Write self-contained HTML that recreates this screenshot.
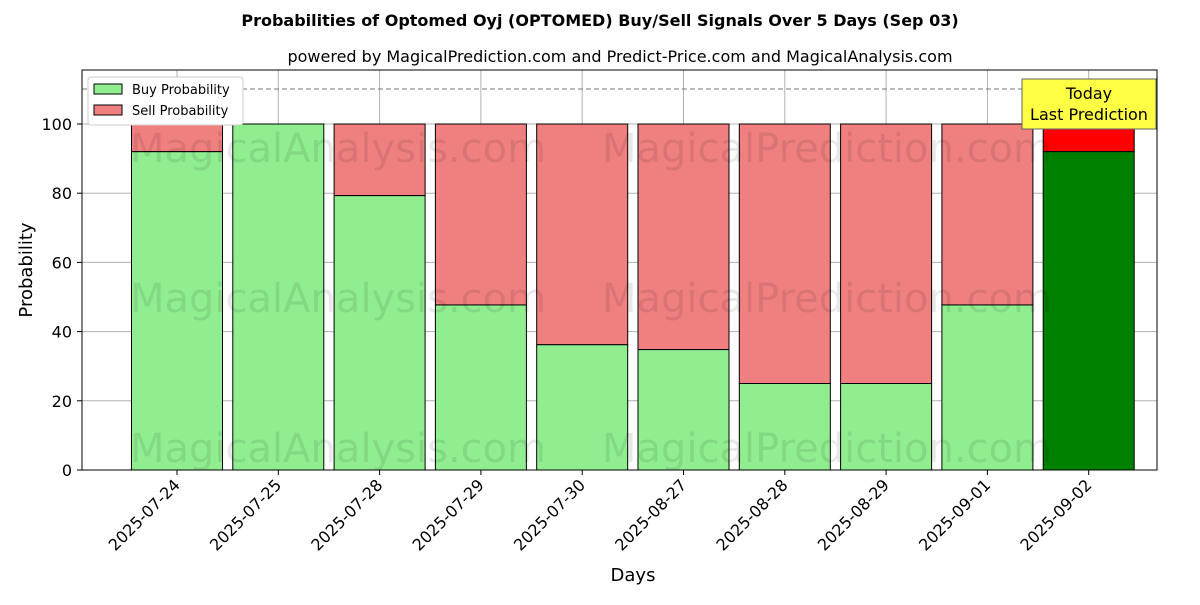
<!DOCTYPE html>
<html><head><meta charset="utf-8"><style>
body{margin:0;background:#fff;font-family:"Liberation Sans","DejaVu Sans",sans-serif}
svg text{font-family:"DejaVu Sans","Liberation Sans",sans-serif}
</style></head><body>
<svg id="chart" width="1200" height="600" xmlns="http://www.w3.org/2000/svg">
<text x="600" y="26" text-anchor="middle" font-size="16" font-weight="bold">Probabilities of Optomed Oyj (OPTOMED) Buy/Sell Signals Over 5 Days (Sep 03)</text>
<text x="620" y="62" text-anchor="middle" font-size="16">powered by MagicalPrediction.com and Predict-Price.com and MagicalAnalysis.com</text>
<g id="grid"></g>
<g id="bars"></g>
<g font-size="40" fill="#000" fill-opacity="0.09">
<text x="130" y="162">MagicalAnalysis.com</text><text x="602" y="162">MagicalPrediction.com</text>
<text x="130" y="312">MagicalAnalysis.com</text><text x="602" y="312">MagicalPrediction.com</text>
<text x="130" y="462">MagicalAnalysis.com</text><text x="602" y="462">MagicalPrediction.com</text>
</g>
<line x1="82" x2="1157" y1="89" y2="89" stroke="#777" stroke-dasharray="5,3"/>
<rect x="82" y="70" width="1075" height="400" fill="none" stroke="#000"/>
<g id="axes"></g>
<text x="633" y="581" text-anchor="middle" font-size="18">Days</text>
<text transform="translate(32,270) rotate(-90)" text-anchor="middle" font-size="18">Probability</text>
<g>
<rect x="88" y="77" width="155" height="48" fill="#fff" stroke="#ccc" rx="3"/>
<rect x="94" y="84" width="28" height="10" fill="#90ee90" stroke="#000"/>
<text x="132" y="94" font-size="13">Buy Probability</text>
<rect x="94" y="105" width="28" height="10" fill="#f08080" stroke="#000"/>
<text x="132" y="115" font-size="13">Sell Probability</text>
</g>
<g>
<rect x="1022" y="79" width="134" height="50" fill="#ffff44" stroke="#666"/>
<text x="1089" y="99" text-anchor="middle" font-size="16">Today</text>
<text x="1089" y="120" text-anchor="middle" font-size="16">Last Prediction</text>
</g>
</svg>
<script>
const categories=["2025-07-24","2025-07-25","2025-07-28","2025-07-29","2025-07-30","2025-08-27","2025-08-28","2025-08-29","2025-09-01","2025-09-02"];
const buyValues=[92,100,79.3,47.7,36.2,34.8,25,25,47.7,92];
const yTicks=[0,20,40,60,80,100];
const NS="http://www.w3.org/2000/svg";
const y=v=>470-v*3.46;
const x=i=>177+i*101.3;
const bw=91;
function mk(t,a,p){const e=document.createElementNS(NS,t);for(const k in a)e.setAttribute(k,a[k]);p.appendChild(e);return e;}
const grid=document.getElementById('grid'),bars=document.getElementById('bars'),axes=document.getElementById('axes');
yTicks.forEach(v=>{
 const l=mk('line',{x1:82,x2:1157,y1:y(v),y2:y(v),stroke:'#b0b0b0','stroke-width':1},grid);
 
 
 mk('line',{x1:77,x2:82,y1:y(v),y2:y(v),stroke:'#000'},axes);
 const t=mk('text',{x:72,y:y(v)+6,'text-anchor':'end','font-size':16},axes);t.textContent=v;
 
 
});
categories.forEach((c,i)=>{
 const gl=mk('line',{x1:x(i),x2:x(i),y1:70,y2:470,stroke:'#b0b0b0'},grid);
 
 
 const last=i===categories.length-1;
 const b=buyValues[i];
 const s=mk('rect',{x:x(i)-bw/2,y:y(100),width:bw,height:y(b)-y(100),fill:last?'#ff0000':'#f08080',stroke:'#000'},bars);
 
 
 const r=mk('rect',{x:x(i)-bw/2,y:y(b),width:bw,height:470-y(b),fill:last?'#008000':'#90ee90',stroke:'#000'},bars);
 
 
 mk('line',{x1:x(i),x2:x(i),y1:470,y2:475,stroke:'#000'},axes);
 const t=mk('text',{x:x(i)+4,y:486,'text-anchor':'end','font-size':16,transform:`rotate(-45 ${x(i)+4} 486)`},axes);
 t.textContent=c;
 
 
});
</script>
</body></html>
